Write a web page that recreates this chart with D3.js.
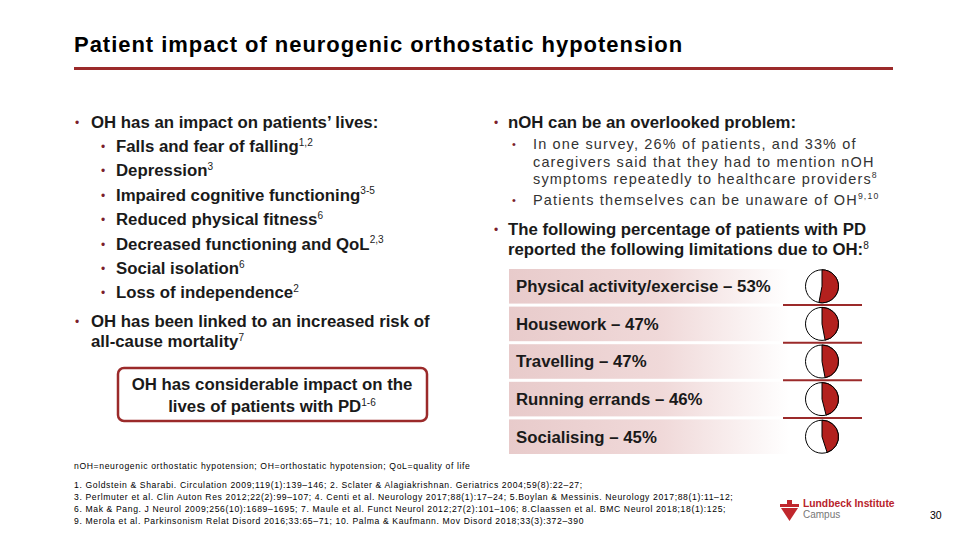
<!DOCTYPE html>
<html>
<head>
<meta charset="utf-8">
<script src="https://cdn.jsdelivr.net/npm/d3@7"></script>
<style>
  body { margin: 0; background: #fff; }
  svg { font-family: "Liberation Sans", Arial, sans-serif; }
</style>
</head>
<body>
<div id="slide"></div>
<script>
// chart data
var limitations = ["Physical activity/exercise", "Housework", "Travelling", "Running errands", "Socialising"];
var limitation_percents = [53, 47, 47, 46, 45];

var left_heading_one = [["OH has an impact on patients\u2019 lives:", ""]];
var left_items = [
    [["Falls and fear of falling", ""], ["1,2", "sup"]],
    [["Depression", ""], ["3", "sup"]],
    [["Impaired cognitive functioning", ""], ["3-5", "sup"]],
    [["Reduced physical fitness", ""], ["6", "sup"]],
    [["Decreased functioning and QoL", ""], ["2,3", "sup"]],
    [["Social isolation", ""], ["6", "sup"]],
    [["Loss of independence", ""], ["2", "sup"]]
];
var left_heading_two = [
    [["OH has been linked to an increased risk of", ""]],
    [["all-cause mortality", ""], ["7", "sup"]]
];
var box_lines = [
    [["OH has considerable impact on the", ""]],
    [["lives of patients with PD", ""], ["1-6", "sup"]]
];
var right_heading_one = [["nOH can be an overlooked problem:", ""]];
var right_items = [
    [[["In one survey, 26% of patients, and 33% of", ""]],
     [["caregivers said that they had to mention nOH", ""]],
     [["symptoms repeatedly to healthcare providers", ""], ["8", "sup"]]],
    [[["Patients themselves can be unaware of OH", ""], ["9,10", "sup"]]]
];
var right_heading_two = [
    [["The following percentage of patients with PD", ""]],
    [["reported the following limitations due to OH:", ""], ["8", "sup"]]
];
var abbreviations = "nOH=neurogenic orthostatic hypotension; OH=orthostatic hypotension; QoL=quality of life";
var references = [
    "1. Goldstein & Sharabi. Circulation 2009;119(1):139\u2013146; 2. Sclater & Alagiakrishnan. Geriatrics 2004;59(8):22\u201327;",
    "3. Perlmuter et al. Clin Auton Res 2012;22(2):99\u2013107; 4. Centi et al. Neurology 2017;88(1):17\u201324; 5.Boylan & Messinis. Neurology 2017;88(1):11\u201312;",
    "6. Mak & Pang. J Neurol 2009;256(10):1689\u20131695; 7. Maule et al. Funct Neurol 2012;27(2):101\u2013106; 8.Claassen et al. BMC Neurol 2018;18(1):125;",
    "9. Merola et al. Parkinsonism Relat Disord 2016;33:65\u201371; 10. Palma & Kaufmann. Mov Disord 2018;33(3):372\u2013390"
];

var dark_red = "#9b2a2a";
var pie_red = "#b3211e";
var bullet_red = "#7b1e2c";
var text_color = "#1a1a1a";
var body_size = 16.8;

var svg = d3.select("#slide").append("svg")
            .attr("width", 960)
            .attr("height", 540);

// writes a line made of normal and superscript pieces
function write_line(parent, x, y, segments, size, color, anchor, weight, spacing)
{
    var text = parent.append("text")
                     .attr("x", x)
                     .attr("y", y)
                     .attr("font-size", size)
                     .attr("font-weight", weight || "bold")
                     .attr("letter-spacing", spacing || 0)
                     .attr("fill", color)
                     .attr("text-anchor", anchor || "start");

    for (var index in segments)
    {
        var segment = segments[index];
        if (segment[1] === "sup")
        {
            text.append("tspan")
                .attr("font-size", size * 0.6)
                .attr("font-weight", "normal")
                .attr("dy", -size * 0.38)
                .text(segment[0]);
        }
        else
        {
            text.append("tspan")
                .attr("dy", index > 0 ? size * 0.38 : 0)
                .text(segment[0]);
        }
    }
    return text;
}

function bullet(parent, x, y, size)
{
    parent.append("text")
          .attr("x", x)
          .attr("y", y)
          .attr("font-size", size)
          .attr("fill", bullet_red)
          .text("\u2022");
}

// title and rule
svg.append("text")
   .attr("x", 74)
   .attr("y", 52)
   .attr("font-size", 22)
   .attr("font-weight", "bold")
   .attr("letter-spacing", 0.97)
   .attr("fill", "#000")
   .text("Patient impact of neurogenic orthostatic hypotension");

svg.append("rect")
   .attr("x", 74)
   .attr("y", 67)
   .attr("width", 819)
   .attr("height", 3)
   .attr("fill", dark_red);

// left column
bullet(svg, 75, 127, 12);
write_line(svg, 91, 128, left_heading_one, body_size, text_color);

for (var index in left_items)
{
    var row_y = 152 + index * 24.4;
    bullet(svg, 101, row_y - 1, 12);
    write_line(svg, 116, row_y, left_items[index], body_size, text_color);
}

bullet(svg, 75, 326, 12);
write_line(svg, 91, 327, left_heading_two[0], body_size, text_color);
write_line(svg, 91, 347, left_heading_two[1], body_size, text_color);

svg.append("rect")
   .attr("x", 118)
   .attr("y", 368)
   .attr("width", 309)
   .attr("height", 53)
   .attr("rx", 6)
   .attr("fill", "#fff")
   .attr("stroke", dark_red)
   .attr("stroke-width", 2.5);

write_line(svg, 272, 390, box_lines[0], body_size, text_color, "middle");
write_line(svg, 272, 412, box_lines[1], body_size, text_color, "middle");

// right column
bullet(svg, 494, 127, 12);
write_line(svg, 508, 128, right_heading_one, body_size, text_color);

var sub_y = [149, 166.5, 184, 205];
var sub_line = 0;
for (var item_index in right_items)
{
    var item = right_items[item_index];
    bullet(svg, 512, sub_y[sub_line] - 1, 11);
    for (var line_index in item)
    {
        write_line(svg, 533, sub_y[sub_line], item[line_index], 14.5, "#333", "start", "normal", 1.15);
        sub_line += 1;
    }
}

bullet(svg, 494, 234, 12);
write_line(svg, 508, 235, right_heading_two[0], body_size, text_color);
write_line(svg, 508, 255, right_heading_two[1], body_size, text_color);

// limitation rows
var row_scale = d3.scaleBand()
                  .domain(limitations)
                  .range([269, 454])
                  .paddingInner(0.08);

var gradient = svg.append("defs").append("linearGradient")
                  .attr("id", "row-fade")
                  .attr("x1", "0%").attr("x2", "100%")
                  .attr("y1", "0%").attr("y2", "0%");
gradient.append("stop").attr("offset", "0%").attr("stop-color", "#e8cbcb");
gradient.append("stop").attr("offset", "55%").attr("stop-color", "#f0d9d9");
gradient.append("stop").attr("offset", "100%").attr("stop-color", "#ffffff");

var rows = svg.selectAll("g.limitation")
              .data(limitations)
              .enter().append("g")
              .attr("class", "limitation")
              .attr("transform", function (d) { return "translate(0," + row_scale(d) + ")"; });

rows.append("rect")
    .attr("x", 509)
    .attr("width", 280)
    .attr("height", row_scale.bandwidth())
    .attr("fill", "url(#row-fade)");

rows.append("text")
    .attr("x", 516)
    .attr("y", row_scale.bandwidth() / 2 + 6)
    .attr("font-size", body_size)
    .attr("font-weight", "bold")
    .attr("fill", text_color)
    .text(function (d, i) { return d + " \u2013 " + limitation_percents[i] + "%"; });

// separator lines between rows
var separators = limitations.slice(1);
svg.selectAll("line.separator")
   .data(separators)
   .enter().append("line")
   .attr("class", "separator")
   .attr("x1", 783)
   .attr("x2", 862)
   .attr("y1", function (d) { return row_scale(d) - row_scale.step() * row_scale.paddingInner() / 2; })
   .attr("y2", function (d) { return row_scale(d) - row_scale.step() * row_scale.paddingInner() / 2; })
   .attr("stroke", dark_red)
   .attr("stroke-width", 2);

// small pies
var pie_radius = 16.5;
var arc = d3.arc().innerRadius(0).outerRadius(pie_radius);

var pies = rows.append("g")
               .attr("transform", "translate(822," + (row_scale.bandwidth() / 2) + ")");

pies.append("circle")
    .attr("r", pie_radius)
    .attr("fill", "#fff")
    .attr("stroke", "#000")
    .attr("stroke-width", 1);

pies.append("path")
    .attr("d", function (d, i) {
        return arc({startAngle: 0, endAngle: 2 * Math.PI * limitation_percents[i] / 100});
    })
    .attr("fill", pie_red)
    .attr("stroke", "#000")
    .attr("stroke-width", 1);

// footnotes
svg.append("text")
   .attr("x", 74)
   .attr("y", 469)
   .attr("font-size", 8.6)
   .attr("letter-spacing", 0.64)
   .attr("fill", "#000")
   .text(abbreviations);

svg.selectAll("text.reference")
   .data(references)
   .enter().append("text")
   .attr("class", "reference")
   .attr("x", 74)
   .attr("y", function (d, i) { return 488 + i * 12; })
   .attr("font-size", 8.6)
   .attr("letter-spacing", 0.63)
   .attr("fill", "#000")
   .text(function (d) { return d; });

// logo
var logo = svg.append("g").attr("fill", "#c0272d");
logo.append("rect").attr("x", 787).attr("y", 500).attr("width", 5).attr("height", 4);
logo.append("rect").attr("x", 780).attr("y", 504).attr("width", 19).attr("height", 3);
logo.append("path").attr("d", "M781,508 L798,508 L789.5,521 Z");

svg.append("text")
   .attr("x", 803)
   .attr("y", 507)
   .attr("font-size", 10.3)
   .attr("font-weight", "bold")
   .attr("fill", "#b8232b")
   .text("Lundbeck Institute");

svg.append("text")
   .attr("x", 803)
   .attr("y", 518)
   .attr("font-size", 10)
   .attr("fill", "#777")
   .text("Campus");

svg.append("text")
   .attr("x", 930)
   .attr("y", 519)
   .attr("font-size", 10.5)
   .attr("fill", "#000")
   .text("30");
</script>
</body>
</html>
